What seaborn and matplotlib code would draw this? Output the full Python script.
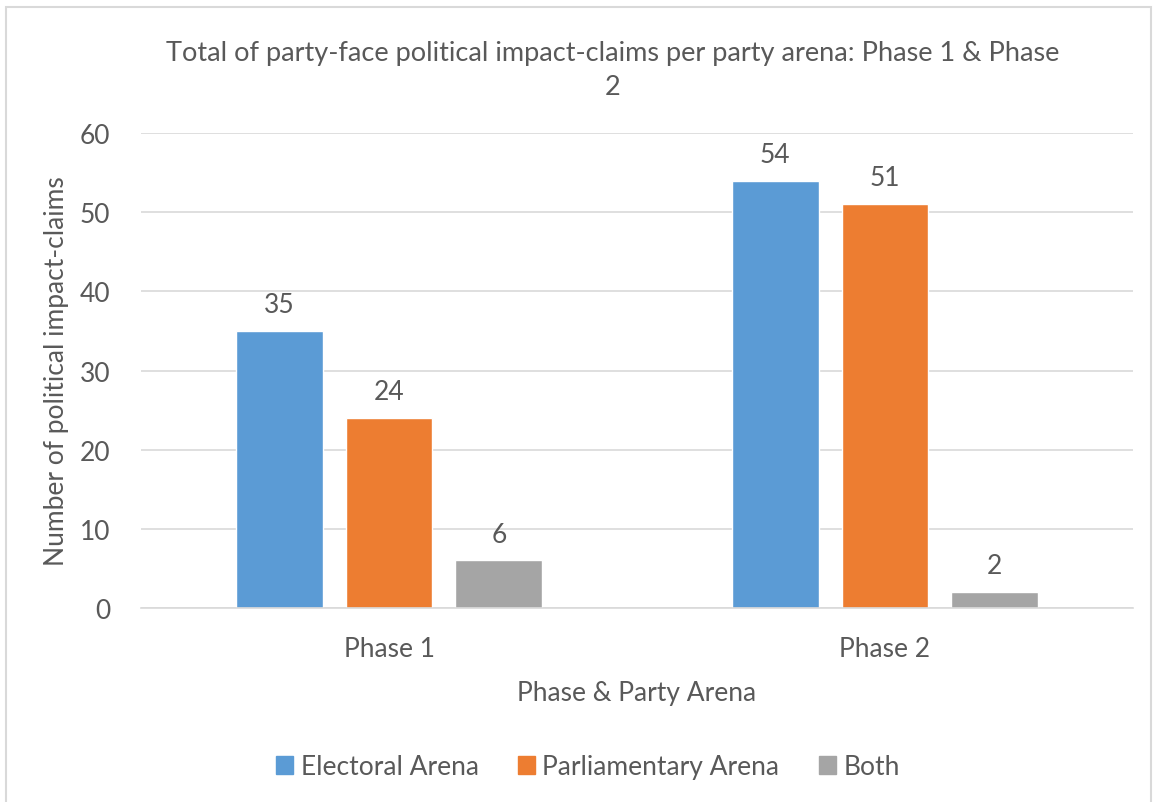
import pandas as pd
import matplotlib.pyplot as plt
import seaborn as sns
from matplotlib.patches import Rectangle, Patch

phases = ["Phase 1", "Phase 2"]
arenas = ["Electoral Arena", "Parliamentary Arena", "Both"]
electoral = [35, 54]
parliamentary = [24, 51]
both = [6, 2]
colors = ["#5B9BD5", "#ED7D31", "#A5A5A5"]

df = pd.DataFrame({
    "phase": phases * 3,
    "arena": [a for a in arenas for _ in phases],
    "claims": electoral + parliamentary + both,
})

sns.set_theme(style="white")
plt.rcParams["font.family"] = ["Lato", "DejaVu Sans"]
txt = "#595959"
fs = 19

fig = plt.figure(figsize=(11.54, 8.03), dpi=100)
ax = fig.add_axes([0.1222, 0.2416, 0.8596, 0.5915])

sns.barplot(data=df, x="phase", y="claims", hue="arena", hue_order=arenas,
            palette=colors, width=0.664, gap=0.21, saturation=1, ax=ax,
            legend=False)

for c in ax.containers:
    ax.bar_label(c, padding=10, fontsize=fs, color=txt)

ax.set_xlim(-0.5, 1.5)
ax.set_ylim(0, 60)
ax.set_yticks(range(0, 61, 10))
ax.yaxis.grid(True, color="#D9D9D9", linewidth=1.2)
ax.set_axisbelow(True)
for s in ["top", "right", "left"]:
    ax.spines[s].set_visible(False)
ax.spines["bottom"].set_color("#D9D9D9")
ax.spines["bottom"].set_linewidth(1.2)
ax.tick_params(axis="both", length=0, labelsize=fs, labelcolor=txt)
ax.tick_params(axis="y", pad=22)
ax.tick_params(axis="x", pad=20)
ax.set_xlabel("Phase & Party Arena", fontsize=fs, color=txt, labelpad=14)
ax.set_ylabel("Number of political impact-claims", fontsize=fs, color=txt, labelpad=8)

fig.text(0.531, 0.9128,
         "Total of party-face political impact-claims per party arena: Phase 1 & Phase\n2",
         ha="center", va="center", fontsize=19.5, color=txt, linespacing=1.45)

handles = [Patch(color=c, label=a) for c, a in zip(colors, arenas)]
fig.legend(handles=handles, loc="center", bbox_to_anchor=(0.5095, 0.0436), ncol=3,
           frameon=False, fontsize=fs, labelcolor=txt, handlelength=0.65,
           handleheight=0.65, handletextpad=0.27, columnspacing=1.5)

fig.patches.append(Rectangle((0.005, -0.01), 0.992, 1.0, transform=fig.transFigure,
                             fill=False, edgecolor="#D9D9D9", linewidth=1.5))

fig.savefig("out.png", dpi=100)
